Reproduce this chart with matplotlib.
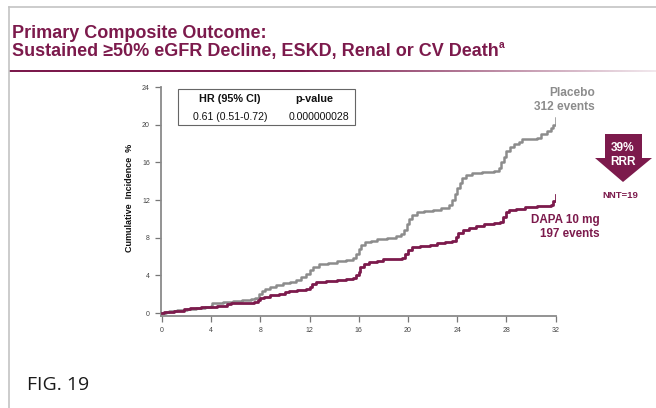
import numpy as np
import matplotlib
matplotlib.use("Agg")
import matplotlib.pyplot as plt
from matplotlib.patches import Polygon, Rectangle
from matplotlib.lines import Line2D

# ---------------- data ----------------
placebo_t = [0, 0.3, 0.6, 1.2, 2.0, 2.8, 3.5, 4.0, 4.1, 5.0, 5.8, 6.5, 7.2, 7.6, 7.9, 8.1,
             8.4, 8.8, 9.3, 9.8, 10.4, 10.9, 11.3, 11.7, 12.0, 12.3, 12.8, 13.5, 14.2, 15.0,
             15.5, 15.8, 16.0, 16.2, 16.5, 17.0, 17.5, 18.3, 19.0, 19.4, 19.7, 19.9, 20.1,
             20.3, 20.7, 21.3, 22.0, 22.7, 23.3, 23.6, 23.8, 24.0, 24.2, 24.4, 24.7, 25.2,
             26.0, 27.0, 27.4, 27.6, 27.8, 28.0, 28.3, 28.6, 29.0, 29.3, 30.5, 30.8, 31.3,
             31.6, 31.8, 32.0]
placebo_v = [0, 0.1, 0.25, 0.35, 0.45, 0.55, 0.65, 0.8, 1.1, 1.2, 1.3, 1.4, 1.5, 1.65, 2.0, 2.3,
             2.6, 2.8, 3.0, 3.2, 3.35, 3.5, 3.8, 4.2, 4.6, 4.95, 5.2, 5.35, 5.5, 5.65,
             5.9, 6.3, 6.8, 7.2, 7.5, 7.7, 7.85, 8.0, 8.2, 8.4, 8.8, 9.5, 10.0,
             10.4, 10.7, 10.85, 11.0, 11.2, 11.5, 12.0, 12.6, 13.3, 13.8, 14.3, 14.7, 14.9,
             15.0, 15.1, 15.4, 16.0, 16.6, 17.2, 17.6, 17.9, 18.2, 18.5, 18.6, 19.0, 19.3,
             19.6, 20.0, 20.7]

dapa_t = [0, 0.2, 1.0, 1.8, 2.3, 3.2, 4.0, 4.5, 5.3, 5.6, 6.5, 7.5, 7.8, 8.0, 8.3, 8.8, 9.5,
          10.0, 10.3, 11.0, 11.7, 12.0, 12.2, 12.5, 13.3, 14.2, 15.0, 15.5, 15.8, 16.0, 16.1,
          16.4, 16.8, 17.5, 18.0, 18.8, 19.5, 19.8, 20.0, 20.3, 21.0, 21.8, 22.4, 23.0, 23.6,
          23.9, 24.1, 24.5, 25.0, 25.5, 26.2, 27.0, 27.5, 27.7, 28.0, 28.2, 28.8, 29.5, 30.5,
          31.6, 31.8, 32.0]
dapa_v = [0, 0.1, 0.25, 0.4, 0.55, 0.62, 0.7, 0.8, 0.95, 1.05, 1.1, 1.15, 1.35, 1.6, 1.75, 1.9, 2.0,
          2.2, 2.35, 2.45, 2.55, 2.8, 3.1, 3.3, 3.4, 3.5, 3.6, 3.75, 4.0, 4.4, 4.9,
          5.2, 5.4, 5.5, 5.7, 5.8, 5.9, 6.3, 6.7, 7.0, 7.1, 7.2, 7.4, 7.5, 7.7,
          8.1, 8.5, 8.8, 9.0, 9.3, 9.5, 9.6, 9.7, 10.2, 10.7, 11.0, 11.1, 11.3, 11.4,
          11.5, 11.9, 12.5]

x_ticks = [0, 4, 8, 12, 16, 20, 24, 28, 32]
y_ticks = [0, 4, 8, 12, 16, 20, 24]

title1 = "Primary Composite Outcome:"
title2 = "Sustained \u226550% eGFR Decline, ESKD, Renal or CV Death"
hr_header = ["HR (95% CI)", "p-value"]
hr_row = ["0.61 (0.51-0.72)", "0.000000028"]
placebo_label = ["Placebo", "312 events"]
dapa_label = ["DAPA 10 mg", "197 events"]
rrr_text = ["39%", "RRR"]
nnt_text = "NNT=19"
fig_label = "FIG. 19"

# ---------------- style ----------------
W, H = 656, 408
MAROON = "#7c1a4c"
GRAY_LINE = "#8c8c8c"
plt.rcParams['font.family'] = ['Liberation Sans', 'DejaVu Sans']

fig = plt.figure(figsize=(W / 100, H / 100), dpi=100)
fig.patch.set_facecolor("white")


def fx(px):
    return px / W


def fy(py):
    return 1 - py / H


# border lines
fig.add_artist(Line2D([fx(9), 1], [fy(7), fy(7)], color="#c4c4c4", lw=1.2))
fig.add_artist(Line2D([fx(9), fx(9)], [fy(7), 0], color="#c4c4c4", lw=1.2))

# title
t1 = fig.text(fx(12.5), fy(38), title1, color=MAROON, fontsize=13,
              fontweight="bold", va="baseline", ha="left")
t2 = fig.text(fx(12.5), fy(55.7), title2, color=MAROON, fontsize=13,
              fontweight="bold", va="baseline", ha="left")
fig.canvas.draw()
bb = t2.get_window_extent()
fig.text((bb.x1 - 0.5) / W, fy(48.5), "a", color=MAROON, fontsize=7.5,
         fontweight="bold", va="baseline", ha="left")

# gradient separator
gax = fig.add_axes([fx(9), fy(72.5), 1 - fx(9), 2.2 / H])
grad = np.linspace(0, 1, 300)
alpha = np.clip(1 - (grad - 0.45) / 0.55, 0, 1) * 0.9 + 0.1
rgb = np.array(matplotlib.colors.to_rgb(MAROON))
img = np.ones((1, 300, 4))
img[0, :, :3] = rgb
img[0, :, 3] = alpha
gax.imshow(img, aspect="auto", extent=[0, 1, 0, 1])
gax.axis("off")

# main axes
ax = fig.add_axes([fx(161), fy(316), fx(556) - fx(161), (316 - 87) / H])
ax.step(placebo_t, placebo_v, where="post", color=GRAY_LINE, lw=1.8, zorder=3)
ax.step(dapa_t, dapa_v, where="post", color=MAROON, lw=2.0, zorder=4)
ax.set_xlim(-0.08, 32.04)
ax.set_ylim(-0.3, 24)
ax.set_xticks(x_ticks)
ax.set_yticks(y_ticks)
ax.tick_params(axis="both", colors="#777777", labelcolor="#444444", labelsize=5,
               length=4.5, width=0.9)
for s in ["top", "right"]:
    ax.spines[s].set_visible(False)
for s in ["left", "bottom"]:
    ax.spines[s].set_color("#8a8a8a")
    ax.spines[s].set_linewidth(1.3)
ax.set_facecolor("none")

fig.text(fx(130), fy(198), "Cumulative  Incidence  %", rotation=90, fontsize=6.5,
         fontweight="bold", color="#111111", ha="center", va="center")

# HR table
fig.add_artist(Rectangle((fx(178), fy(124.5)), fx(355) - fx(178), (124.5 - 88.5) / H,
                         transform=fig.transFigure, fill=False, ec="#666666", lw=0.8))
fig.text(fx(230), fy(98.5), hr_header[0], fontsize=7.8, fontweight="bold", ha="center",
         va="center", color="#111111")
fig.text(fx(314), fy(98.5), hr_header[1], fontsize=7.8, fontweight="bold", ha="center",
         va="center", color="#111111")
fig.text(fx(230), fy(116.5), hr_row[0], fontsize=7.6, ha="center", va="center", color="#111111")
fig.text(fx(319), fy(116.5), hr_row[1], fontsize=7.6, ha="center", va="center", color="#111111")

# curve labels
fig.text(fx(595), fy(93), placebo_label[0], fontsize=8.6, fontweight="bold", ha="right",
         va="center", color="#8c8c8c")
fig.text(fx(595), fy(107), placebo_label[1], fontsize=8.6, fontweight="bold", ha="right",
         va="center", color="#8c8c8c")
fig.text(fx(600), fy(220), dapa_label[0], fontsize=8.4, fontweight="bold", ha="right",
         va="center", color=MAROON)
fig.text(fx(600), fy(234), dapa_label[1], fontsize=8.4, fontweight="bold", ha="right",
         va="center", color=MAROON)

# RRR arrow
arrow_px = [(605, 134), (642, 134), (642, 158), (652, 158), (623, 182), (595, 158), (605, 158)]
fig.add_artist(Polygon([(fx(x), fy(y)) for x, y in arrow_px], closed=True,
                       transform=fig.transFigure, fc=MAROON, ec="none"))
fig.text(fx(623), fy(148), rrr_text[0], fontsize=8.6, fontweight="bold", ha="center",
         va="center", color="white")
fig.text(fx(623), fy(162), rrr_text[1], fontsize=8.6, fontweight="bold", ha="center",
         va="center", color="white")
fig.text(fx(620), fy(195), nnt_text, fontsize=6.8, fontweight="bold", ha="center",
         va="center", color=MAROON)

# figure label
fig.text(fx(27), fy(390), fig_label, fontsize=14, ha="left", va="baseline",
         color="#1a1a1a", family=["Open Sans", "DejaVu Sans"])

fig.savefig("out.png", dpi=100, facecolor="white")
